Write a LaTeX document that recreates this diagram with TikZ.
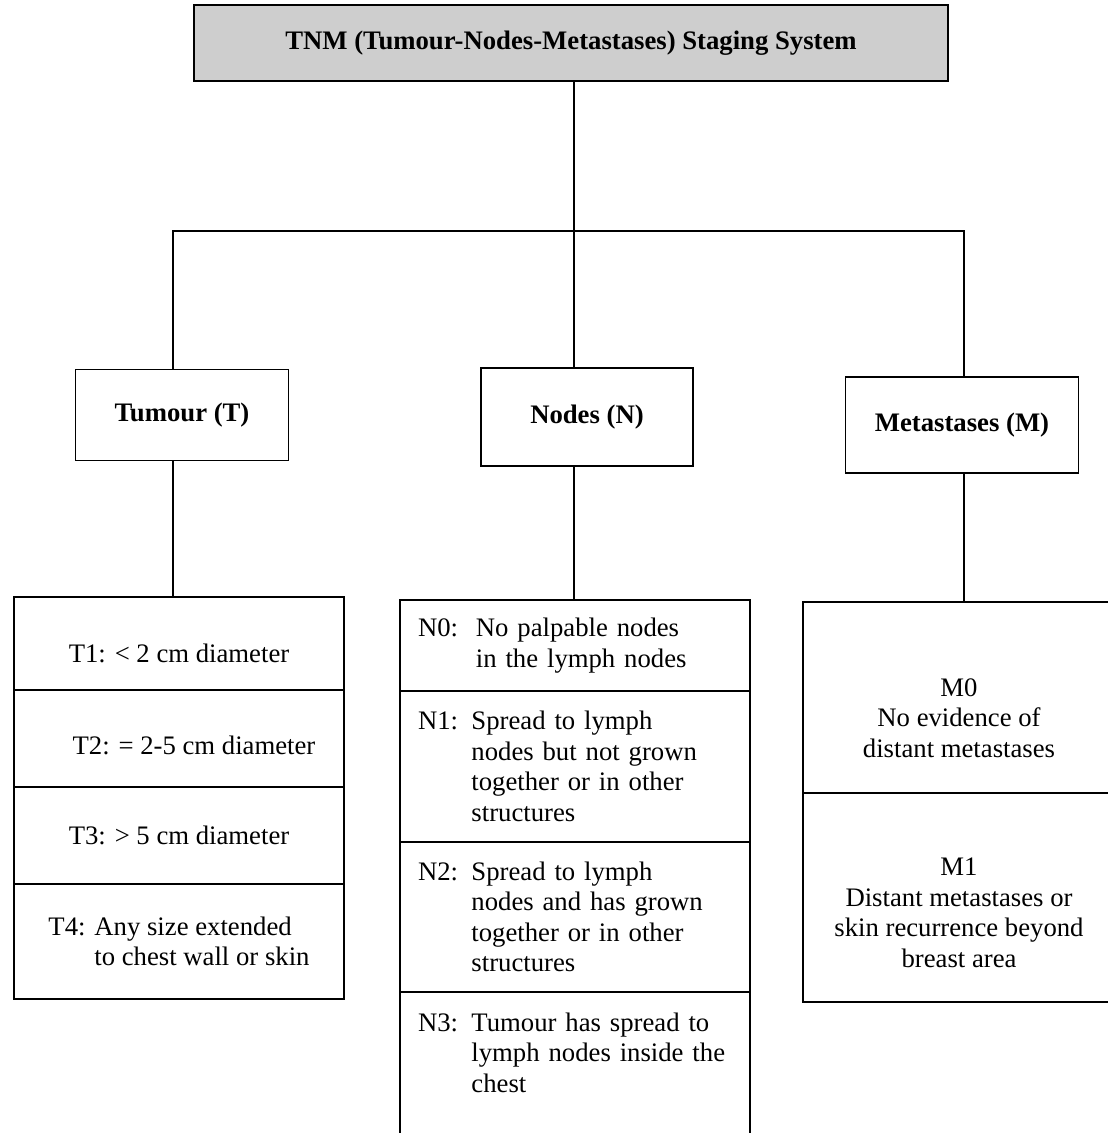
\documentclass[tikz,border=0pt]{standalone}
\usepackage{fontspec}
\setmainfont{Liberation Serif}
\usepackage{tikz}
\usetikzlibrary{positioning}
\definecolor{BannerGray}{RGB}{206,206,206}
\newcommand{\bodyfont}{\fontsize{15.2}{17.4}\selectfont}
% struts that push a cell text down (top) or up (bottom)
\newcommand{\topgap}[1]{\rule{0pt}{#1}}
\newcommand{\botgap}[1]{\rule[-#1]{0pt}{0pt}}
\tikzset{
  banner/.style={
    rectangle, draw=black, line width=1.3pt, fill=BannerGray,
    minimum width=15.08cm, minimum height=1.52cm,
    font=\bodyfont\bfseries
  },
  category/.style={
    rectangle, draw=black, line width=1pt, fill=white,
    minimum height=1.9cm, font=\bodyfont\bfseries
  },
  stagecell/.style={
    rectangle, draw=black, line width=1pt, inner sep=0pt, outer sep=0pt,
    font=\bodyfont
  },
  tcell/.style={stagecell, minimum width=6.6cm, align=center},
  ncell/.style={stagecell, minimum width=7cm, text width=6.28cm, align=left},
  mcell/.style={stagecell, minimum width=6.24cm, align=center},
  conn/.style={draw=black, line width=0.9pt}
}

\begin{document}
\begin{tikzpicture}[x=0.02cm, y=-0.02cm]
  \useasboundingbox (0,0) rectangle (1107,1133);

  % Title
  \node[banner] (title) at (571,43) {TNM (Tumour-Nodes-Metastases) Staging System};

  % Category boxes
  \node[category, minimum width=4.26cm, minimum height=1.82cm] (thead) at (182,415) {Tumour (T)};
  \node[category, minimum width=4.24cm, minimum height=1.96cm] (nhead) at (587,417) {Nodes (N)};
  \node[category, minimum width=4.66cm, minimum height=1.92cm] (mhead) at (962,425) {Metastases (M)};

  % Tumour stages
  \node[tcell, minimum height=1.86cm, anchor=north] (t1) at (179,597)
    {\topgap{0.77cm}T1: < 2 cm diameter};
  \node[tcell, minimum height=1.94cm, below=0pt of t1] (t2)
    {\topgap{0.65cm}\hspace*{0.6cm}T2: = 2-5 cm diameter};
  \node[tcell, minimum height=1.94cm, below=0pt of t2] (t3) {T3: > 5 cm diameter};
  \node[tcell, minimum height=2.3cm, below=0pt of t3, align=left] (t4)
    {T4: Any size extended\\\phantom{T4: }to chest wall or skin};

  % Nodes stages
  \node[ncell, minimum height=1.82cm, anchor=north] (n0) at (575,600)
    {N0:\ \ No palpable nodes\\\phantom{N0:\ \ }in the lymph nodes};
  \node[ncell, minimum height=3.02cm, below=0pt of n0] (n1)
    {N1: Spread to lymph\\\phantom{N1: }nodes but not grown\\\phantom{N1: }together or in other\\\phantom{N1: }structures};
  \node[ncell, minimum height=3cm, below=0pt of n1] (n2)
    {N2: Spread to lymph\\\phantom{N2: }nodes and has grown\\\phantom{N2: }together or in other\\\phantom{N2: }structures};
  \node[ncell, minimum height=3.06cm, below=0pt of n2] (n3)
    {N3: Tumour has spread to\\\phantom{N3: }lymph nodes inside the\\\phantom{N3: }chest\botgap{0.64cm}};

  % Metastases stages
  \node[mcell, minimum height=3.82cm, anchor=north] (m0) at (959,602)
    {\topgap{1.17cm}M0\\No evidence of\\distant metastases};
  \node[mcell, minimum height=4.18cm, below=0pt of m0] (m1)
    {\topgap{0.97cm}M1\\Distant metastases or\\skin recurrence beyond\\breast area};

  % Connectors
  \coordinate (hub) at (574,231);
  \coordinate (tcol) at (173,0);
  \coordinate (mcol) at (964,0);
  \draw[conn] (title.south -| hub) -- (hub);
  \draw[conn] (thead.north -| tcol) |- (hub) -| (mhead.north -| mcol);
  \draw[conn] (hub) -- (nhead.north -| hub);
  \draw[conn] (thead.south -| tcol) -- (t1.north -| tcol);
  \draw[conn] (nhead.south -| hub) -- (n0.north -| hub);
  \draw[conn] (mhead.south -| mcol) -- (m0.north -| mcol);
\end{tikzpicture}
\end{document}
